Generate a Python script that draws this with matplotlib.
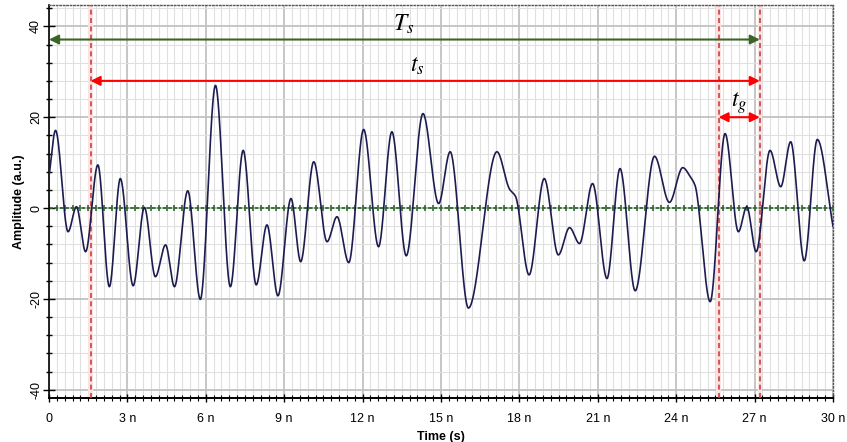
import numpy as np
import matplotlib
matplotlib.use("Agg")
import matplotlib.pyplot as plt
from matplotlib.ticker import MultipleLocator, FixedLocator

plt.rcParams['font.family'] = ['Liberation Sans', 'DejaVu Sans']
plt.rcParams['mathtext.fontset'] = 'stix'

# ---- data ----
# extrema / key points of the time-domain waveform (time in ns, amplitude in a.u.)
t_pts = [0.00, 0.25, 0.73, 1.05, 1.40, 1.87, 2.31, 2.73, 3.22, 3.65, 4.07, 4.46,
         4.80, 5.31, 5.79, 6.37, 6.94, 7.43, 7.93, 8.34, 8.76, 9.26, 9.63,
         10.13, 10.64, 11.02, 11.47, 12.04, 12.61, 13.12, 13.67, 14.31, 14.91,
         15.35, 16.05, 17.14, 17.62, 17.85, 18.37, 18.95, 19.49, 19.92, 20.30,
         20.80, 21.35, 21.85, 22.43, 23.17, 23.74, 24.25, 24.55, 24.72, 25.30,
         25.87, 26.38, 26.70, 27.06, 27.59, 28.00, 28.38, 28.90, 29.40, 30.00]
a_pts = [7.0, 17.1, -5.2, 0.3, -9.6, 9.5, -17.3, 6.5, -17.1, 0.15, -15.1, -8.1,
         -17.3, 3.8, -20.1, 27.0, -17.3, 12.7, -16.9, -3.7, -19.3, 2.1, -11.8,
         10.2, -7.4, -1.9, -12.0, 17.3, -8.5, 16.8, -10.5, 20.8, 1.0,
         12.4, -22.0, 12.4, 4.2, 2.6, -14.7, 6.5, -10.3, -4.3, -7.8,
         5.4, -15.5, 8.7, -18.2, 11.4, 1.25, 8.9, 6.8, 5.0, -20.6,
         16.4, -5.2, 0.3, -9.6, 12.7, 4.7, 14.6, -11.6, 15.1, -4.0]

x_ticks = [0, 3, 6, 9, 12, 15, 18, 21, 24, 27, 30]
x_tick_labels = ['0', '3 n', '6 n', '9 n', '12 n', '15 n', '18 n', '21 n', '24 n', '27 n', '30 n']
y_ticks = [-40, -20, 0, 20, 40]
y_tick_labels = ['-40', '-20', '0', '20', '40']

marker_times = [1.59, 25.62, 27.22]   # red dashed markers (ns)
Ts_span = [0.0, 27.2]
ts_span = [1.59, 27.2]
tg_span = [25.62, 27.2]
Ts_level, ts_level, tg_level = 37.1, 28.0, 20.0


def pchip(x, y, xn):
    x = np.asarray(x, float); y = np.asarray(y, float)
    h = np.diff(x); d = np.diff(y) / h
    m = np.zeros_like(y)
    for k in range(1, len(x) - 1):
        if d[k - 1] * d[k] > 0:
            w1 = 2 * h[k] + h[k - 1]; w2 = h[k] + 2 * h[k - 1]
            m[k] = (w1 + w2) / (w1 / d[k - 1] + w2 / d[k])
    m[0] = d[0]; m[-1] = d[-1]
    idx = np.clip(np.searchsorted(x, xn) - 1, 0, len(x) - 2)
    s = (xn - x[idx]) / h[idx]
    h00 = 2 * s**3 - 3 * s**2 + 1; h10 = s**3 - 2 * s**2 + s
    h01 = -2 * s**3 + 3 * s**2; h11 = s**3 - s**2
    return h00 * y[idx] + h10 * h[idx] * m[idx] + h01 * y[idx + 1] + h11 * h[idx] * m[idx + 1]


tt = np.linspace(0, 30, 4000)
aa = pchip(t_pts, a_pts, tt)

fig = plt.figure(figsize=(8.47, 4.42), dpi=100)
ax = fig.add_axes([49 / 847, 1 - 398 / 442, (833 - 49) / 847, (398 - 5) / 442])
ax.set_xlim(0, 30)
ax.set_ylim(-41.8, 44.7)

ax.xaxis.set_major_locator(FixedLocator(x_ticks))
ax.xaxis.set_minor_locator(MultipleLocator(0.3))
ax.yaxis.set_major_locator(FixedLocator(y_ticks))
ax.yaxis.set_minor_locator(MultipleLocator(4))
ax.set_xticklabels(x_tick_labels, fontsize=9)
ax.set_yticklabels(y_tick_labels, fontsize=9, rotation=90, va='center')

ax.set_axisbelow(True)
ax.grid(which='minor', color='#e0e0e0', lw=0.8)
ax.grid(which='major', color='#c2c2c2', lw=1.3)

ax.tick_params(axis='x', which='major', direction='inout', length=6, width=1, pad=8, top=False)
ax.tick_params(axis='x', which='minor', direction='inout', length=4, width=0.8, top=False)
ax.tick_params(axis='y', which='major', direction='inout', length=8, width=1, pad=1, right=False)
ax.tick_params(axis='y', which='minor', direction='inout', length=5, width=1, right=False)

for side in ['top', 'right']:
    ax.spines[side].set_linestyle((0, (1, 1.5)))
    ax.spines[side].set_color('#555555')
    ax.spines[side].set_linewidth(1)
ax.spines['left'].set_color('black')
ax.spines['left'].set_linewidth(1.2)
ax.spines['bottom'].set_color('black')
ax.spines['bottom'].set_linewidth(1.4)

# zero reference line
green_line = '#2f6a2f'
ax.axhline(0, color=green_line, lw=1.3, ls=(0, (2, 1)), zorder=2)
zt = np.arange(0, 30.01, 0.3)
ax.plot(zt, np.zeros_like(zt), ls='none', marker='|', ms=5, mew=1.2, color=green_line, zorder=2)

# red dashed markers with pale band
for mt in marker_times:
    ax.axvspan(mt - 0.08, mt + 0.08, color='#fbe3e3', lw=0, zorder=1)
    ax.axvline(mt, color='#c84040', lw=1.2, ls=(0, (3, 2)), zorder=3)

# waveform
ax.plot(tt, aa, color='#1c1c50', lw=1.2, zorder=4)

# arrows
arrow_green = '#3b6526'
ax.annotate('', xy=(Ts_span[0], Ts_level), xytext=(Ts_span[1], Ts_level),
            arrowprops=dict(arrowstyle='<|-|>', color=arrow_green, lw=1.5,
                            mutation_scale=14, shrinkA=0, shrinkB=0), zorder=5)
ax.annotate('', xy=(ts_span[0], ts_level), xytext=(ts_span[1], ts_level),
            arrowprops=dict(arrowstyle='<|-|>', color='#ff0000', lw=1.5,
                            mutation_scale=14, shrinkA=0, shrinkB=0), zorder=5)
ax.annotate('', xy=(tg_span[0], tg_level), xytext=(tg_span[1], tg_level),
            arrowprops=dict(arrowstyle='<|-|>', color='#ff0000', lw=1.5,
                            mutation_scale=14, shrinkA=0, shrinkB=0), zorder=5)

ax.text(13.56, 39.1, r'$T_s$', fontsize=17, ha='center', va='baseline', zorder=6)
ax.text(14.1, 30.1, r'$t_s$', fontsize=17, ha='center', va='baseline', zorder=6)
ax.text(26.4, 22.4, r'$t_g$', fontsize=17, ha='center', va='baseline', zorder=6)

ax.set_xlabel('Time (s)', fontsize=9, fontweight='bold')
ax.xaxis.set_label_coords(0.5, -0.085)
ax.set_ylabel('Amplitude (a.u.)', fontsize=9, fontweight='bold')
ax.yaxis.set_label_coords(-0.031, 0.5)

fig.savefig('out.png', dpi=100)
